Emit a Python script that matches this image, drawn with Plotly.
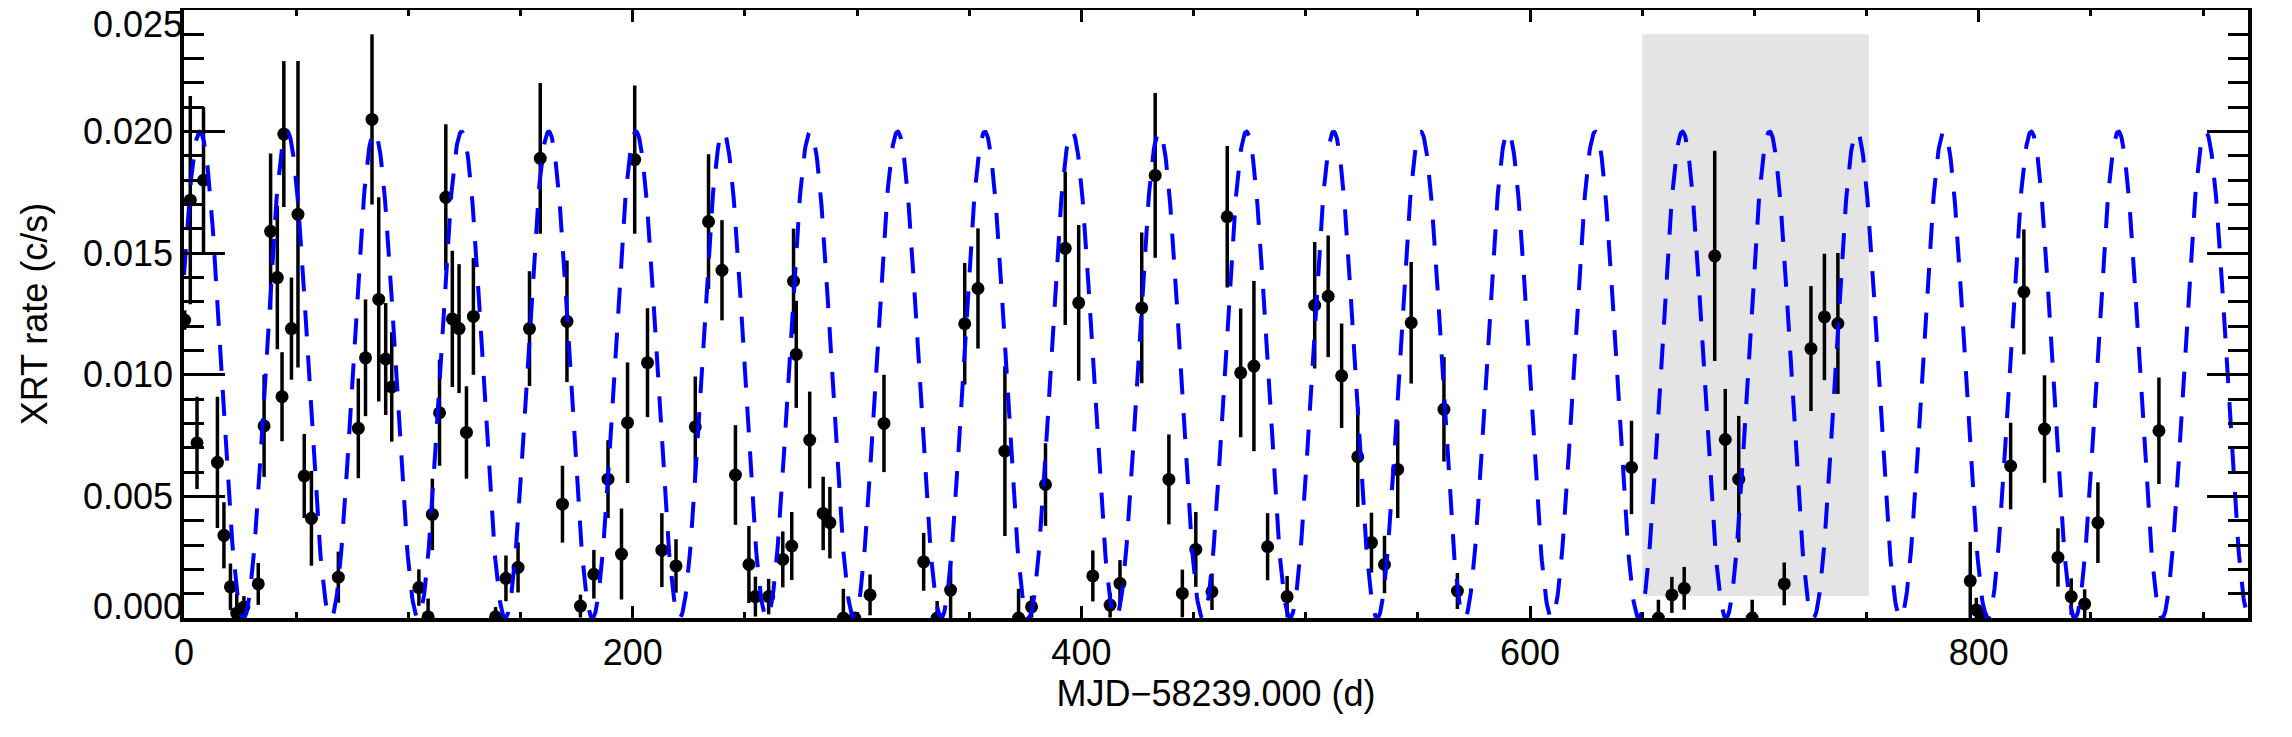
import numpy as np
import plotly.graph_objects as go

# Observation times (days since MJD 58239.000)
DAYS = [0.3, 2.8, 5.8, 8.7, 14.9, 17.8, 20.7, 23.5, 26.7, 33.1, 35.7, 38.6, 41.6, 43.7, 44.5, 47.9,
        50.8, 53.6, 56.8, 68.8, 77.7, 80.9, 83.8, 86.8, 89.9, 92.6, 104.7, 108.8, 110.7, 113.9,
        116.7, 119.6, 122.6, 125.9, 129.0, 138.9, 143.5, 148.9, 154.0, 158.8, 168.7, 170.7,
        176.7, 182.7, 189.0, 195.0, 197.7, 200.9, 206.6, 213.0, 219.3, 227.9, 233.8, 239.8,
        245.8, 251.8, 254.7, 260.6, 266.9, 270.9, 271.7, 272.9, 278.9, 284.9, 287.9, 293.9,
        299.0, 305.8, 312.0, 329.7, 335.7, 341.7, 348.0, 353.9, 365.9, 372.0, 377.8, 384.0,
        392.8, 398.8, 405.1, 412.8, 417.2, 426.9, 432.9, 439.0, 445.0, 451.0, 458.2, 465.0,
        471.0, 476.9, 483.0, 491.7, 504.0, 510.0, 516.0, 523.2, 529.3, 535.1, 541.0, 547.0,
        561.6, 567.6, 645.2, 657.2, 663.2, 668.7, 682.3, 687.0, 693.0, 699.0, 713.3, 725.2,
        731.2, 737.2, 796.2, 798.9, 801.5, 814.2, 820.1, 829.3, 835.3, 841.2, 847.2, 853.1,
        880.3]

# XRT count rate (c/s)
RATE = [0.01225, 0.01718, 0.00720, 0.01800, 0.00640, 0.00340, 0.00128, 0.00020, 0.00045, 0.00140,
        0.00790, 0.01590, 0.01400, 0.00910, 0.01990, 0.01190, 0.01660, 0.00584, 0.00410, 0.00168,
        0.00780, 0.01070, 0.02050, 0.01310, 0.01065, 0.00950, 0.00125, 0.00005, 0.00426, 0.00844,
        0.01730, 0.01230, 0.01190, 0.00763, 0.01240, 0.00005, 0.00163, 0.00208, 0.01190, 0.01890,
        0.00468, 0.01220, 0.00049, 0.00180, 0.00571, 0.00263, 0.00803, 0.01885, 0.01050, 0.00279,
        0.00214, 0.00786, 0.01630, 0.01430, 0.00588, 0.00220, 0.00088, 0.00088, 0.00241, 0.00296,
        0.01385, 0.01084, 0.00732, 0.00430, 0.00392, 0.00000, 0.00000, 0.00095, 0.00800, 0.00231,
        0.00000, 0.00115, 0.01210, 0.01355, 0.00686, 0.00000, 0.00046, 0.00549, 0.01520, 0.01296,
        0.00173, 0.00053, 0.00142, 0.01275, 0.01820, 0.00570, 0.00101, 0.00282, 0.00108, 0.01650,
        0.01008, 0.01036, 0.00293, 0.00088, 0.01286, 0.01323, 0.00996, 0.00663, 0.00310, 0.00220,
        0.00611, 0.01214, 0.00858, 0.00111, 0.00619, 0.00000, 0.00095, 0.00122, 0.01489, 0.00734,
        0.00571, 0.00000, 0.00140, 0.01108, 0.01238, 0.01211, 0.00153, 0.00033, 0.00005, 0.00625,
        0.01341, 0.00777, 0.00249, 0.00088, 0.00058, 0.00392, 0.00770]

# 1-sigma uncertainty on the rate (c/s)
RATE_ERR = [0.00040, 0.00428, 0.00190, 0.00300, 0.00270, 0.00136, 0.00096, 0.00080, 0.00045, 0.00086,
            0.00210, 0.00320, 0.00295, 0.00183, 0.00300, 0.00210, 0.00630, 0.00173, 0.00195, 0.00105,
            0.00205, 0.00240, 0.00350, 0.00420, 0.00230, 0.00225, 0.00075, 0.00075, 0.00147, 0.00218,
            0.00300, 0.00280, 0.00265, 0.00190, 0.00240, 0.00040, 0.00094, 0.00103, 0.00236, 0.00310,
            0.00158, 0.00250, 0.00047, 0.00100, 0.00160, 0.00187, 0.00248, 0.00305, 0.00224, 0.00152,
            0.00110, 0.00207, 0.00277, 0.00206, 0.00205, 0.00158, 0.00082, 0.00073, 0.00115, 0.00140,
            0.00216, 0.00220, 0.00199, 0.00151, 0.00147, 0.00120, 0.00020, 0.00084, 0.00200, 0.00119,
            0.00070, 0.00115, 0.00250, 0.00247, 0.00349, 0.00120, 0.00045, 0.00170, 0.00315, 0.00320,
            0.00105, 0.00051, 0.00096, 0.00310, 0.00339, 0.00185, 0.00098, 0.00154, 0.00075, 0.00291,
            0.00265, 0.00350, 0.00138, 0.00085, 0.00260, 0.00250, 0.00215, 0.00206, 0.00123, 0.00118,
            0.00200, 0.00250, 0.00215, 0.00074, 0.00192, 0.00075, 0.00074, 0.00088, 0.00432, 0.00208,
            0.00260, 0.00075, 0.00088, 0.00257, 0.00260, 0.00290, 0.00160, 0.00050, 0.00040, 0.00178,
            0.00257, 0.00221, 0.00120, 0.00075, 0.00060, 0.00166, 0.00219]

# Periodic model drawn as blue dashed curve (parameters)
MODEL_PERIOD = 38.87      # days
MODEL_EPOCH = 7.1         # day of first maximum
MODEL_MEAN = 0.010        # c/s
MODEL_AMP = 0.010         # c/s

# Shaded interval
SHADE_X = [650.0, 751.0]
SHADE_Y = [0.0009, 0.0240]

X_RANGE = [0, 920]
Y_RANGE = [0.0, 0.025001]
X_TICKS = [0, 200, 400, 600, 800]
Y_TICKS_MID = [0.005, 0.010, 0.015, 0.020]
Y_TICK_BOTTOM = [0.000]
Y_TICK_TOP = [0.025]
Y_MINOR = 0.001

t_model = np.linspace(X_RANGE[0], X_RANGE[1], 3681)
r_model = MODEL_MEAN + MODEL_AMP * np.cos(2 * np.pi * (t_model - MODEL_EPOCH) / MODEL_PERIOD)

FONT = "Liberation Sans, Arial, Helvetica, sans-serif"
TICKFONT = dict(family=FONT, size=36, color="black")

fig = go.Figure()

fig.add_shape(type="rect", xref="x", yref="y",
              x0=SHADE_X[0], x1=SHADE_X[1], y0=SHADE_Y[0], y1=SHADE_Y[1],
              fillcolor="#e4e4e4", line=dict(width=0), layer="below")

fig.add_trace(go.Scatter(
    x=DAYS, y=RATE, mode="markers",
    marker=dict(color="black", size=13, line=dict(width=0)),
    error_y=dict(type="data", array=RATE_ERR, visible=True, color="black",
                 thickness=3.5, width=0),
    showlegend=False, cliponaxis=True,
))

fig.add_trace(go.Scatter(
    x=t_model, y=r_model, mode="lines",
    line=dict(color="#0000ff", width=4, dash="26px,19px"),
    showlegend=False, hoverinfo="skip",
))

# empty traces so that the label-only y axes are created
for ax_name in ("y2", "y3"):
    fig.add_trace(go.Scatter(x=[], y=[], xaxis="x", yaxis=ax_name, mode="markers",
                             showlegend=False, hoverinfo="skip"))

axis_common = dict(
    showline=True, linecolor="black", linewidth=3.5, mirror="ticks",
    ticks="inside", tickcolor="black", tickwidth=3,
    showgrid=False, zeroline=False, automargin=False,
    tickfont=TICKFONT,
)

fig.update_xaxes(
    range=X_RANGE, tickvals=X_TICKS, ticklen=12,
    minor=dict(ticks="inside", dtick=50, tick0=0, ticklen=6, tickwidth=3, tickcolor="black"),
    title=dict(text="MJD\u221258239.000 (d)", font=dict(family=FONT, size=36, color="black"),
               standoff=6),
    **axis_common,
)
fig.update_layout(yaxis=dict(
    range=Y_RANGE, tickvals=Y_TICKS_MID + Y_TICK_BOTTOM + Y_TICK_TOP,
    ticktext=["%.3f" % v for v in Y_TICKS_MID] + ["", ""],
    ticklen=41,
    minor=dict(ticks="inside", dtick=Y_MINOR, tick0=0, ticklen=20, tickwidth=3, tickcolor="black"),
    title=dict(text="XRT rate (c/s)", font=dict(family=FONT, size=36, color="black"),
               standoff=25),
    **axis_common,
))

# end labels of the y axis sit just inside the frame, as in the original
label_axis = dict(overlaying="y", side="left", range=Y_RANGE, showline=False, ticks="",
                  showgrid=False, zeroline=False, automargin=False, tickfont=TICKFONT,
                  tickformat=".3f", anchor="x", fixedrange=True, ticklabeloverflow="allow")
fig.update_layout(
    yaxis2=dict(tickvals=Y_TICK_BOTTOM, ticklabelshift=-12, **label_axis),
    yaxis3=dict(tickvals=Y_TICK_TOP, ticklabelshift=14, **label_axis),
)

# the page body adds an 8 px offset; size and margins compensate for it
fig.update_layout(
    width=2284, height=729,
    margin=dict(l=176, r=44, t=2, b=119),
    paper_bgcolor="white", plot_bgcolor="white",
    template="none",
    font=dict(family=FONT, color="black"),
)

fig.write_html("out.html")
